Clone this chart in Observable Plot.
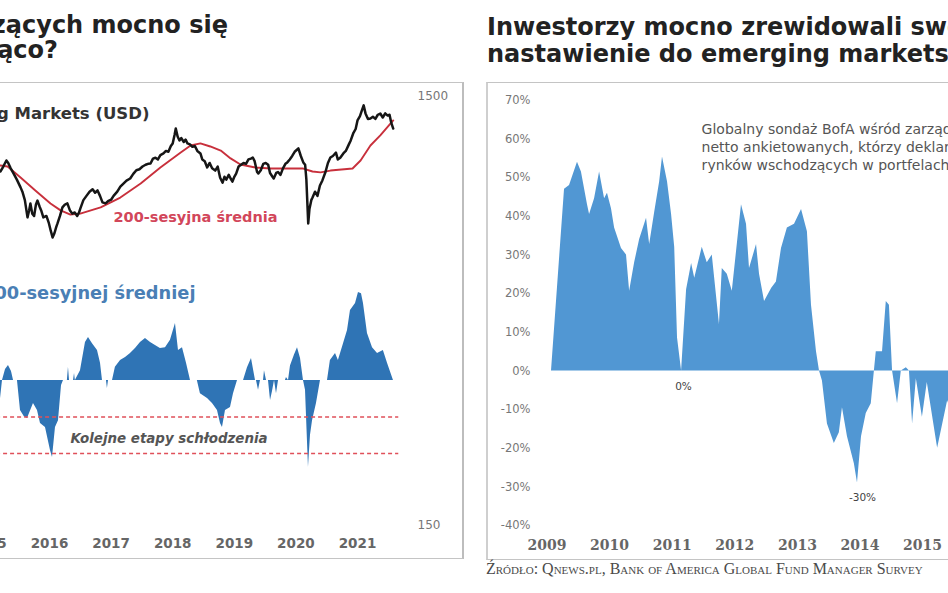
<!DOCTYPE html>
<html><head><meta charset="utf-8">
<script src="https://cdn.jsdelivr.net/npm/d3@7"></script>
<script src="https://cdn.jsdelivr.net/npm/@observablehq/plot@0.6"></script>
<style>
html,body{margin:0;padding:0;width:948px;height:593px;overflow:hidden;background:#fff;}
#page{position:relative;width:948px;height:593px;overflow:hidden;font-family:"DejaVu Sans",sans-serif;}
.abs{position:absolute;white-space:nowrap;}
.title{font-family:"DejaVu Sans",sans-serif;font-weight:700;font-size:24px;line-height:28px;color:#222;}
.box{position:absolute;box-sizing:border-box;}
</style></head>
<body><div id="page">
<div class="box" style="left:-10px;top:82px;width:474px;height:477px;border-top:1px solid #c4c4c4;border-bottom:1px solid #c4c4c4;border-right:2px solid #bdbdbd;"></div>
<div class="box" style="left:486px;top:82px;width:480px;height:478px;border-top:1px solid #c4c4c4;border-bottom:1px solid #c4c4c4;border-left:2px solid #cfcfcf;"></div>
<div class="abs title" style="right:720px;top:11px;">Czy notowania rynków wschodzących mocno się</div>
<div class="abs title" style="right:890px;top:36px;">schłodziły się wystarczająco?</div>
<div class="abs title" style="left:487px;top:13px;">Inwestorzy mocno zrewidowali swoje</div>
<div class="abs title" style="left:487px;top:40px;">nastawienie do emerging markets</div>
<div class="abs" style="left:486px;top:558px;line-height:22px;font-family:'Liberation Serif',serif;font-variant:small-caps;font-size:16px;color:#4a4a4a;">Źródło: Qnews.pl, Bank of America Global Fund Manager Survey</div>
</div>
<script>
// ---------- DATA ----------
const leftYears = [2015, 2016, 2017, 2018, 2019, 2020, 2021];
const priceTicks = [150, 1500];
const rightYears = [2009, 2010, 2011, 2012, 2013, 2014, 2015];
const rightTicks = [-40, -30, -20, -10, 0, 10, 20, 30, 40, 50, 60, 70];
const coolingLevels = [-10, -20];

// MSCI Emerging Markets (USD), time in years
const priceT = [2015.10,2015.16,2015.205,2015.25,2015.30,2015.33,2015.37,2015.42,2015.47,2015.53,2015.56,2015.60,2015.643,2015.67,2015.69,2015.72,2015.75,2015.78,2015.805,2015.84,2015.87,2015.90,2015.95,2015.99,2016.02,2016.05,2016.08,2016.11,2016.13,2016.17,2016.21,2016.25,2016.29,2016.33,2016.37,2016.41,2016.45,2016.48,2016.50,2016.55,2016.60,2016.65,2016.70,2016.74,2016.78,2016.82,2016.86,2016.91,2016.95,2017.0,2017.04,2017.10,2017.15,2017.20,2017.25,2017.31,2017.36,2017.41,2017.46,2017.51,2017.56,2017.60,2017.64,2017.68,2017.72,2017.76,2017.80,2017.85,2017.89,2017.93,2017.97,2018.0,2018.03,2018.05,2018.08,2018.11,2018.14,2018.18,2018.21,2018.24,2018.28,2018.32,2018.36,2018.40,2018.45,2018.48,2018.52,2018.56,2018.60,2018.64,2018.69,2018.73,2018.77,2018.81,2018.84,2018.87,2018.91,2018.94,2018.97,2019.0,2019.03,2019.07,2019.11,2019.15,2019.19,2019.23,2019.27,2019.30,2019.33,2019.37,2019.39,2019.43,2019.47,2019.51,2019.55,2019.58,2019.62,2019.64,2019.68,2019.71,2019.75,2019.79,2019.83,2019.86,2019.90,2019.94,2019.98,2020.04,2020.08,2020.12,2020.15,2020.17,2020.20,2020.22,2020.25,2020.27,2020.31,2020.35,2020.39,2020.43,2020.48,2020.52,2020.56,2020.60,2020.65,2020.68,2020.72,2020.77,2020.81,2020.86,2020.89,2020.93,2020.97,2021.0,2021.04,2021.07,2021.10,2021.13,2021.17,2021.21,2021.25,2021.29,2021.33,2021.37,2021.41,2021.45,2021.49,2021.52,2021.55,2021.58];
const priceV = [990,1005,1003,1030,1064,1050,1020,990,960,921,900,860,784,815,845,800,790,840,858,830,810,784,790,760,730,704,720,745,759,790,827,840,845,815,800,805,790,805,822,860,880,900,912,895,906,880,850,845,855,862,880,900,925,940,955,966,990,1010,1015,1030,1040,1045,1047,1075,1080,1070,1095,1105,1120,1115,1150,1166,1220,1263,1210,1185,1200,1175,1190,1166,1160,1145,1150,1120,1105,1070,1060,1025,1050,1020,1008,1030,970,945,975,960,985,966,950,975,992,1030,1040,1050,1045,1070,1075,1081,1060,1000,992,1010,1045,1050,1040,995,975,966,995,1000,985,1020,1045,1053,1070,1090,1115,1135,1090,1053,1040,960,759,820,860,872,900,880,930,956,1000,1050,1081,1090,1110,1070,1080,1105,1120,1160,1185,1230,1260,1319,1350,1390,1430,1370,1330,1333,1345,1330,1360,1369,1340,1370,1354,1360,1300,1263];

// 200-session moving average
const maT = [2015.0,2015.205,2015.32,2015.53,2015.77,2016.016,2016.18,2016.34,2016.50,2016.83,2017.15,2017.48,2017.80,2018.13,2018.29,2018.45,2018.61,2018.78,2018.94,2019.10,2019.34,2019.59,2019.91,2020.12,2020.27,2020.40,2020.56,2020.92,2021.05,2021.21,2021.37,2021.58];
const maV = [1030,1036,1030,971,906,845,814,796,800,827,872,940,1025,1111,1153,1166,1147,1122,1076,1041,1025,1019,1019,1019,1003,998,1008,1019,1064,1153,1217,1319];

// deviation from the 200-session average, %
const devT = [2015.10,2015.205,2015.237,2015.286,2015.334,2015.383,2015.416,2015.48,2015.529,2015.594,2015.643,2015.74,2015.805,2015.854,2015.935,2016.016,2016.049,2016.097,2016.146,2016.195,2016.227,2016.29,2016.308,2016.325,2016.39,2016.406,2016.42,2016.503,2016.584,2016.633,2016.698,2016.779,2016.828,2016.86,2016.925,2016.94,2016.958,2017.023,2017.07,2017.153,2017.234,2017.315,2017.396,2017.477,2017.558,2017.64,2017.72,2017.80,2017.883,2017.964,2018.045,2018.094,2018.159,2018.224,2018.289,2018.40,2018.45,2018.565,2018.646,2018.727,2018.776,2018.808,2018.857,2018.938,2018.987,2019.052,2019.15,2019.214,2019.279,2019.344,2019.36,2019.393,2019.425,2019.474,2019.49,2019.523,2019.555,2019.588,2019.62,2019.653,2019.685,2019.718,2019.83,2019.847,2019.88,2019.912,2019.977,2020.026,2020.075,2020.123,2020.156,2020.204,2020.237,2020.27,2020.334,2020.399,2020.513,2020.56,2020.643,2020.69,2020.773,2020.838,2020.886,2020.968,2021.016,2021.065,2021.097,2021.162,2021.244,2021.325,2021.42,2021.487,2021.584];
const devV = [-3,-4.9,0,3,4.1,2.5,0,0,-8.2,-10,-10.4,-6.3,-8.2,-11.8,-12.9,-19.2,-21.1,-12.9,-11,-1.4,0,0,3.6,0,0,1.9,0,2.7,10.4,11.8,10.1,8.2,4.7,0,0,-2.2,0,0,3.6,5.5,6.3,7.4,8.8,10.4,11.5,10.4,9.6,8.8,9,11,15.6,8.2,9,4.7,0,0,-3.6,-4.9,-6.3,-8.2,-11.8,-12.9,-8.2,-7.4,-3.6,0,0,3.5,6,0,0,-2.7,0,0,2.7,0,0,-5.5,-3,0,-3.6,0,0,0.8,0,4,7,9,6,0,-2.7,-23.8,-15,-11,-6.3,0,0,5.5,7.4,5.5,10.1,13.7,19.2,21.1,24.1,23.8,21.1,12.9,9,7.4,8.2,4.7,0];

// BofA FMS: net % overweight emerging markets
const fmsT = [2009.072,2009.28,2009.36,2009.487,2009.55,2009.647,2009.68,2009.76,2009.84,2009.92,2009.966,2010.03,2010.08,2010.19,2010.27,2010.32,2010.40,2010.48,2010.59,2010.64,2010.72,2010.80,2010.845,2010.925,2010.99,2011.04,2011.085,2011.15,2011.23,2011.31,2011.36,2011.48,2011.56,2011.64,2011.755,2011.80,2011.88,2011.96,2012.107,2012.187,2012.235,2012.347,2012.395,2012.475,2012.59,2012.665,2012.746,2012.84,2012.954,2013.066,2013.16,2013.225,2013.305,2013.353,2013.40,2013.48,2013.59,2013.67,2013.72,2013.80,2013.91,2013.96,2014.024,2014.10,2014.18,2014.23,2014.26,2014.36,2014.42,2014.47,2014.52,2014.60,2014.66,2014.74,2014.79,2014.84,2014.90,2014.997,2015.075,2015.24,2015.40,2015.55];
const fmsV = [0,47,48,54,51.5,43,40.5,44.6,51.5,44.6,46,42,37,31.7,30,20.6,28,34,39.5,32.7,41,49,55.4,49,40.5,32,8.5,0,21,27.8,24,32,28,30,12,26.5,25,20.6,43,38,26.5,32.7,25,18,21.4,23,31.7,37,38,41.8,36,17,5,0,-2.6,-13.7,-18.8,-16,-9.5,-17,-24,-29,-17,-11,-8.5,0,5,5,18,17,0,-8.5,0,0.8,0,-13.7,-2,-12,-3,-20,-7.7,-15];

const labelPrice = "MSCI Emerging Markets (USD)";
const labelMA = "200-sesyjna średnia";
const labelDev = "Odchylenie od 200-sesyjnej średniej";
const labelCool = "Kolejne etapy schłodzenia";
const fmsNote = "Globalny sondaż BofA wśród zarządzających: odsetek\nnetto ankietowanych, którzy deklarują przeważenie\nrynków wschodzących w portfelach";
const fmsMarks = ["0%", "-30%"];

// ---------- TABLES ----------
const price = priceT.map((t, i) => ({t, v: priceV[i]}));
const ma = maT.map((t, i) => ({t, v: maV[i]}));
const dev = devT.map((t, i) => ({t, v: devV[i]}));
const fms = fmsT.map((t, i) => ({t, v: fmsV[i]}));

const page = document.getElementById("page");
const SANS = "DejaVu Sans";
const SERIF = "DejaVu Serif";
const leftX = {type: "linear", domain: [2016, 2021], range: [49, 357], axis: null};

// price chart (log scale)
const p1 = Plot.plot({
  width: 470, height: 593, marginTop: 0, marginLeft: 0, marginRight: 53, marginBottom: 50,
  style: {background: "transparent", overflow: "visible", fontFamily: SANS},
  x: leftX,
  y: {type: "log", domain: [150, 1500], range: [525, 96]},
  marks: [
    Plot.axisY({anchor: "right", ticks: priceTicks, tickSize: 0, tickPadding: 0, tickFormat: d => String(d), label: null, fill: "#777", fontSize: 12, fontFamily: SANS}),
    Plot.line(ma, {x: "t", y: "v", stroke: "#c8303c", strokeWidth: 1.9}),
    Plot.line(price, {x: "t", y: "v", stroke: "#161616", strokeWidth: 2.5, strokeLinejoin: "round"}),
    Plot.text([labelPrice], {x: 2017.623, y: 1369, text: d => d, textAnchor: "end", fontWeight: 700, fontSize: 16.5, fill: "#333", fontFamily: SANS}),
    Plot.text([labelMA], {x: 2018.37, y: 784, text: d => d, fontWeight: 700, fontSize: 14.5, fill: "#d2465a", fontFamily: SANS})
  ]
});

// deviation chart
const p2 = Plot.plot({
  width: 470, height: 593, marginTop: 0, marginLeft: 0, marginRight: 53, marginBottom: 50,
  style: {background: "transparent", overflow: "visible", fontFamily: SANS},
  x: leftX,
  y: {domain: [-20, 0], range: [453, 380], axis: null},
  marks: [
    Plot.areaY(dev, {x: "t", y: "v", fill: "#2f74b5"}),
    Plot.ruleY(coolingLevels, {x1: 2014.8, x2: 2021.67, stroke: "#e0505a", strokeWidth: 1.6, strokeDasharray: "4,3"}),
    Plot.text([labelCool], {x: 2017.94, y: -15.9, text: d => d, fontStyle: "italic", fontWeight: 700, fontSize: 13.4, fill: "#555", fontFamily: SANS}),
    Plot.text([labelDev], {x: 2018.37, y: 23.8, text: d => d, textAnchor: "end", fontWeight: 700, fontSize: 17.8, fill: "#4a7fb5", fontFamily: SANS}),
    Plot.text(leftYears, {x: d => d, frameAnchor: "bottom", lineAnchor: "middle", text: d => String(d), fontWeight: 700, fontSize: 13.5, fill: "#666", fontFamily: SANS})
  ]
});

// FMS chart
const p3 = Plot.plot({
  width: 474, height: 593, marginTop: 0, marginLeft: 56, marginRight: 0, marginBottom: 48,
  style: {background: "transparent", overflow: "visible", fontFamily: SERIF},
  x: {type: "linear", domain: [2009, 2015], range: [72.5, 448.1], axis: null},
  y: {domain: [-40, 70], range: [525, 100]},
  marks: [
    Plot.axisY({anchor: "left", ticks: rightTicks, tickSize: 0, tickPadding: 0, tickFormat: d => d + "%", label: null, fill: "#777", fontSize: 11.5, fontFamily: SANS}),
    Plot.areaY(fms, {x: "t", y: "v", fill: "#5197d3"}),
    Plot.text(rightYears, {x: d => d, frameAnchor: "bottom", lineAnchor: "middle", text: d => String(d), fontWeight: 700, fontSize: 14, fill: "#666", fontFamily: SERIF}),
    Plot.text([fmsMarks[0]], {x: 2011.18, y: -4, text: d => d, fontSize: 10.5, fill: "#444", fontFamily: SANS}),
    Plot.text([fmsMarks[1]], {x: 2014.04, y: -32.7, text: d => d, fontSize: 10.5, fill: "#444", fontFamily: SANS}),
    Plot.text([fmsNote], {x: 2011.47, y: 64.8, text: d => d, textAnchor: "start", lineAnchor: "top", lineHeight: 1.3, fontSize: 14, fill: "#555", fontFamily: SANS})
  ]
});

[p2, p1, p3].forEach(s => { s.style.position = "absolute"; s.style.top = "0px"; page.appendChild(s); });
p1.style.left = "0px"; p2.style.left = "0px"; p3.style.left = "474px";
</script>
</body></html>
